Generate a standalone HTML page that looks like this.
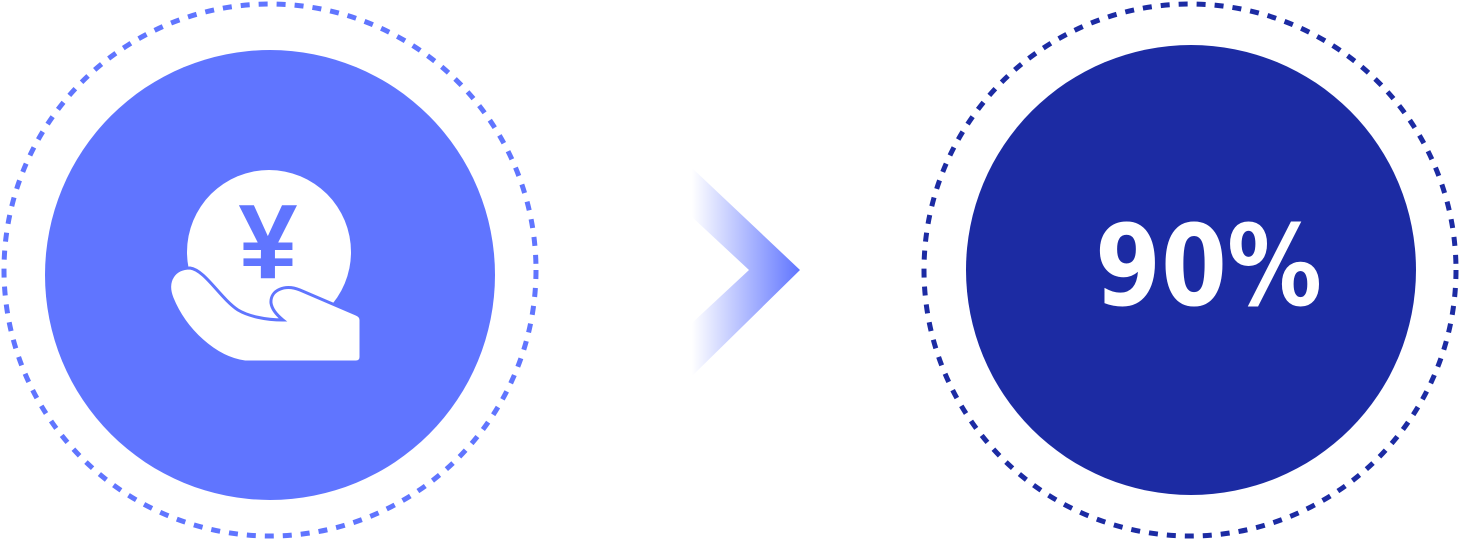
<!DOCTYPE html>
<html><head><meta charset="utf-8"><style>html,body{margin:0;padding:0;background:#fff;}svg{display:block}</style></head>
<body>
<svg width="1461" height="540" viewBox="0 0 1461 540" xmlns="http://www.w3.org/2000/svg">
<defs>
<linearGradient id="g" x1="692" y1="0" x2="800" y2="0" gradientUnits="userSpaceOnUse">
<stop offset="0" stop-color="#6075FF" stop-opacity="0"/>
<stop offset="1" stop-color="#6075FF" stop-opacity="1"/>
</linearGradient>
</defs>
<circle cx="270" cy="270" r="266" fill="none" stroke="#6075FF" stroke-width="5" stroke-dasharray="9 9"/>
<circle cx="270" cy="275" r="225" fill="#6075FF"/>
<circle cx="269" cy="252" r="82" fill="#fff"/>
<text x="268" y="278" text-anchor="middle" font-family="Liberation Sans, sans-serif" font-weight="bold" font-size="106" fill="#6075FF">¥</text>
<path d="M190,268 C175,268 165,280 172,298 C185,330 215,358 245,362 L356,362 Q361,362 361,357 L361,320 Q361,316 356,314 L300,290 C285,284 270,290 271,303 C272,310 278,316 283,320 C265,320 248,316 238,310 C220,298 205,270 190,268 Z" fill="#fff" stroke="#6075FF" stroke-width="3"/>
<polygon points="692,168 800,270 692,376 692,323 749,270 692,217" fill="url(#g)"/>
<circle cx="1190" cy="270" r="266" fill="none" stroke="#1C2BA3" stroke-width="5" stroke-dasharray="9 9"/>
<circle cx="1191" cy="270" r="225" fill="#1C2BA3"/>
<text x="1095" y="305" textLength="227" lengthAdjust="spacingAndGlyphs" font-family="DejaVu Sans, sans-serif" font-weight="bold" font-size="112" fill="#fff">90%</text>
</svg>
</body></html>
